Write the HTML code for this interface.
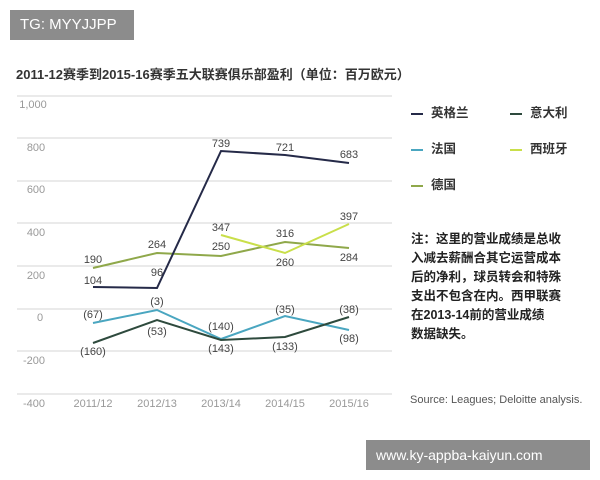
<!DOCTYPE html>
<html><head><meta charset="utf-8"><style>
body{margin:0;width:600px;height:480px;background:#fff;overflow:hidden;font-family:"Liberation Sans","Noto Sans CJK SC",sans-serif;position:relative}
.wm{position:absolute;background:#8c8c8c;color:#fff;font-size:15px;line-height:30px;padding:0 10px}
.leg{position:absolute;font-size:12.5px;font-weight:bold;color:#333}
.leg span{display:inline-block;width:12px;height:2px;vertical-align:middle;margin-right:8px}
</style></head><body>
<div class="wm" style="left:10px;top:10px;width:104px">TG: MYYJJPP</div>
<div style="position:absolute;left:16px;top:64px;font-size:13px;font-weight:bold;color:#333;white-space:nowrap">2011-12赛季到2015-16赛季五大联赛俱乐部盈利（单位：百万欧元）</div>
<svg width="600" height="480" style="position:absolute;left:0;top:0" font-family="Liberation Sans, sans-serif">
<g stroke="#d6d6d6" stroke-width="1">
<line x1="17" x2="392" y1="96" y2="96"/><line x1="17" x2="392" y1="138" y2="138"/><line x1="17" x2="392" y1="181" y2="181"/><line x1="17" x2="392" y1="223" y2="223"/><line x1="17" x2="392" y1="266" y2="266"/><line x1="17" x2="392" y1="309" y2="309"/><line x1="17" x2="392" y1="351" y2="351"/><line x1="17" x2="392" y1="394" y2="394"/>
</g>
<g fill="#999" font-size="11" text-anchor="middle">
<text x="33" y="108">1,000</text><text x="36" y="151">800</text><text x="36" y="193">600</text><text x="36" y="236">400</text><text x="36" y="279">200</text><text x="40" y="321">0</text><text x="34" y="364">-200</text><text x="34" y="407">-400</text>
<text x="93" y="407">2011/12</text><text x="157" y="407">2012/13</text><text x="221" y="407">2013/14</text><text x="285" y="407">2014/15</text><text x="349" y="407">2015/16</text>
</g>
<g fill="none" stroke-width="2">
<polyline stroke="#8fa84a" points="93,268 157,253 221,256 285,242 349,248"/>
<polyline stroke="#c9df4a" points="221,235 285,253 349,224"/>
<polyline stroke="#4aa6c0" points="93,323 157,310 221,339 285,316 349,330"/>
<polyline stroke="#2e4a3d" points="93,343 157,320 221,340 285,337 349,317"/>
<polyline stroke="#252a48" points="93,287 157,288 221,151 285,155 349,163"/>
</g>
<g fill="#444" font-size="11" text-anchor="middle">
<text x="221" y="147">739</text><text x="285" y="151">721</text><text x="349" y="158">683</text>
<text x="349" y="220">397</text><text x="221" y="231">347</text><text x="285" y="237">316</text>
<text x="157" y="248">264</text><text x="221" y="250">250</text><text x="93" y="263">190</text><text x="285" y="266">260</text><text x="349" y="261">284</text>
<text x="93" y="284">104</text><text x="157" y="276">96</text>
<text x="157" y="305">(3)</text><text x="93" y="318">(67)</text><text x="221" y="330">(140)</text><text x="285" y="313">(35)</text><text x="349" y="313">(38)</text>
<text x="157" y="335">(53)</text><text x="349" y="342">(98)</text><text x="93" y="355">(160)</text><text x="221" y="352">(143)</text><text x="285" y="350">(133)</text>
</g>
<text x="410" y="403" fill="#555" font-size="11">Source: Leagues; Deloitte analysis.</text>
</svg>
<div class="leg" style="left:411px;top:102px"><span style="background:#252a48"></span>英格兰</div>
<div class="leg" style="left:510px;top:102px"><span style="background:#2e4a3d"></span>意大利</div>
<div class="leg" style="left:411px;top:138px"><span style="background:#4aa6c0"></span>法国</div>
<div class="leg" style="left:510px;top:138px"><span style="background:#c9df4a"></span>西班牙</div>
<div class="leg" style="left:411px;top:174px"><span style="background:#8fa84a"></span>德国</div>
<div style="position:absolute;left:411px;top:230px;width:156px;font-size:12.5px;font-weight:bold;color:#222;line-height:19px">注：这里的营业成绩是总收<br>入减去薪酬合其它运营成本<br>后的净利，球员转会和特殊<br>支出不包含在内。西甲联赛<br>在2013-14前的营业成绩<br>数据缺失。</div>
<div class="wm" style="left:366px;top:440px;width:204px;font-size:14px">www.ky-appba-kaiyun.com</div>
</body></html>
